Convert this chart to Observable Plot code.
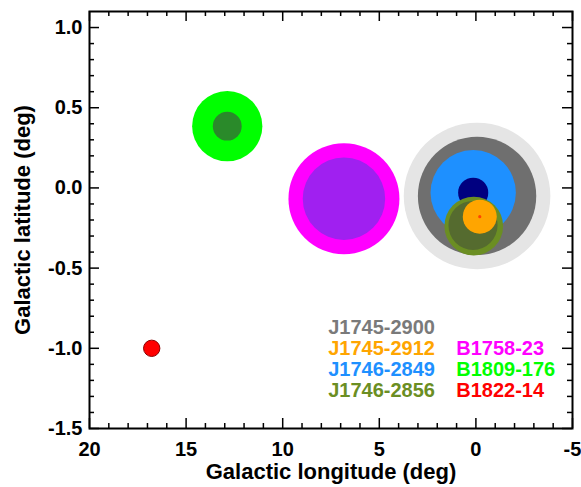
<!DOCTYPE html>
<html>
<head>
<meta charset="utf-8">
<script src="https://cdn.jsdelivr.net/npm/d3@7"></script>
<script src="https://cdn.jsdelivr.net/npm/@observablehq/plot@0.6"></script>
<style>
  html, body { margin: 0; padding: 0; background: #fff; }
</style>
</head>
<body>
<div id="chart"></div>
<script>
// ---- data ----
// circles drawn in order (galactic longitude / latitude / angular radius in deg)
const circleSource = ["J1745-2900","J1745-2900","J1746-2849","J1746-2849","J1746-2856","J1746-2856","J1745-2912","J1745-2912","B1758-23","B1758-23","B1809-176","B1809-176","B1822-14"];
const circleL      = [-0.06, -0.06, 0.14, 0.14, 0.11, 0.15, -0.20, -0.20, 6.83, 6.83, 12.87, 12.87, 16.78];
const circleB      = [-0.05, -0.05, -0.03, -0.03, -0.238, -0.234, -0.179, -0.179, -0.067, -0.067, 0.385, 0.385, -1.00];
const circleRadius = [0.457, 0.369, 0.266, 0.094, 0.183, 0.153, 0.106, 0.010, 0.346, 0.257, 0.219, 0.090, 0.051];
const circleFill   = ["#e5e5e5","#6f6f6f","#1e90ff","#000080","#6b8e23","#556b2f","#ffa500","#ff4500","#ff00ff","#a020f0","#00ff00","#2a8a2a","#ff0000"];
const circleStroke = ["none","none","none","none","none","none","none","none","none","none","none","none","#8b0000"];

// legend
const legendNames  = ["J1745-2900","J1745-2912","J1746-2849","J1746-2856","B1758-23","B1809-176","B1822-14"];
const legendColors = ["#7a7a7a","#ffa500","#1e90ff","#6b8e23","#ff00ff","#00ff00","#ff0000"];
const legendColumn = [0,0,0,0,1,1,1];
const legendRow    = [0,1,2,3,1,2,3];

// axes
const xDomain = [20, -5];
const yDomain = [-1.5, 1.1];
const xMajorTicks = [20, 15, 10, 5, 0, -5];
const xMinorTicks = [19,18,17,16,14,13,12,11,9,8,7,6,4,3,2,1,-1,-2,-3,-4];
const yMajorTicks = [1.0, 0.5, 0.0, -0.5, -1.0, -1.5];
const yMinorTicks = [0.9,0.8,0.7,0.6,0.4,0.3,0.2,0.1,-0.1,-0.2,-0.3,-0.4,-0.6,-0.7,-0.8,-0.9,-1.1,-1.2,-1.3,-1.4];
const xTitle = "Galactic longitude (deg)";
const yTitle = "Galactic latitude (deg)";

// ---- layout ----
const W = 581, H = 487;
const mL = 89, mR = 9, mT = 11, mB = 59;
const plotW = W - mL - mR, plotH = H - mT - mB;
const pxPerDegB = plotH / (yDomain[1] - yDomain[0]);
const font = "'Liberation Sans', Arial, Helvetica, sans-serif";
const majorLen = 10, minorLen = 5, tickW = 1.5;

const circles = circleSource.map((s, i) => ({
  source: s, l: circleL[i], b: circleB[i], r: circleRadius[i],
  fill: circleFill[i], stroke: circleStroke[i]
}));
const legend = legendNames.map((n, i) => ({name: n, color: legendColors[i], col: legendColumn[i], row: legendRow[i]}));

const tickMarks = (vals, len) => [
  Plot.tickX(vals, {x: d => d, insetTop: plotH - len, stroke: "black", strokeWidth: tickW}),
  Plot.tickX(vals, {x: d => d, insetBottom: plotH - len, stroke: "black", strokeWidth: tickW}),
];
const tickMarksY = (vals, len) => [
  Plot.tickY(vals, {y: d => d, insetRight: plotW - len, stroke: "black", strokeWidth: tickW}),
  Plot.tickY(vals, {y: d => d, insetLeft: plotW - len, stroke: "black", strokeWidth: tickW}),
];

const legendMarks = legend.map(d => Plot.text([d.name], {
  frameAnchor: "top-left",
  textAnchor: "start",
  lineAnchor: "middle",
  dx: d.col === 0 ? 238.7 : 366.7,
  dy: 316.2 + d.row * 20.8,
  fill: d.color,
  fontSize: 20,
  fontWeight: "bold"
}));

const chart = Plot.plot({
  width: W, height: H,
  marginLeft: mL, marginRight: mR, marginTop: mT, marginBottom: mB,
  style: {fontFamily: font, fontWeight: "bold", fontSize: "20px", color: "black", background: "white"},
  x: {domain: xDomain, axis: null},
  y: {domain: yDomain, axis: null},
  r: {type: "linear", domain: [0, 1], range: [0, pxPerDegB]},
  color: {type: "identity"},
  marks: [
    Plot.dot(circles, {x: "l", y: "b", r: "r", fill: "fill", stroke: "stroke", strokeWidth: 1, sort: null}),
    ...tickMarks(xMajorTicks, majorLen),
    ...tickMarks(xMinorTicks, minorLen),
    ...tickMarksY(yMajorTicks, majorLen),
    ...tickMarksY(yMinorTicks, minorLen),
    Plot.frame({stroke: "black", strokeWidth: 2}),
    Plot.axisX({ticks: xMajorTicks, tickSize: 0, tickPadding: 13, tickFormat: d => String(d), label: null, fontSize: 20, fontWeight: "bold", fill: "black"}),
    Plot.axisY({ticks: yMajorTicks, tickSize: 0, tickPadding: 7, tickFormat: d => d.toFixed(1), label: null, fontSize: 20, fontWeight: "bold", fill: "black"}),
    Plot.text([xTitle], {frameAnchor: "bottom", textAnchor: "middle", lineAnchor: "middle", dy: 43.5, fontSize: 22, fontWeight: "bold", fill: "black"}),
    Plot.text([yTitle], {frameAnchor: "left", textAnchor: "middle", lineAnchor: "middle", rotate: -90, dx: -67, fontSize: 22, fontWeight: "bold", fill: "black"}),
    ...legendMarks
  ]
});
document.getElementById("chart").appendChild(chart);
</script>
</body>
</html>
